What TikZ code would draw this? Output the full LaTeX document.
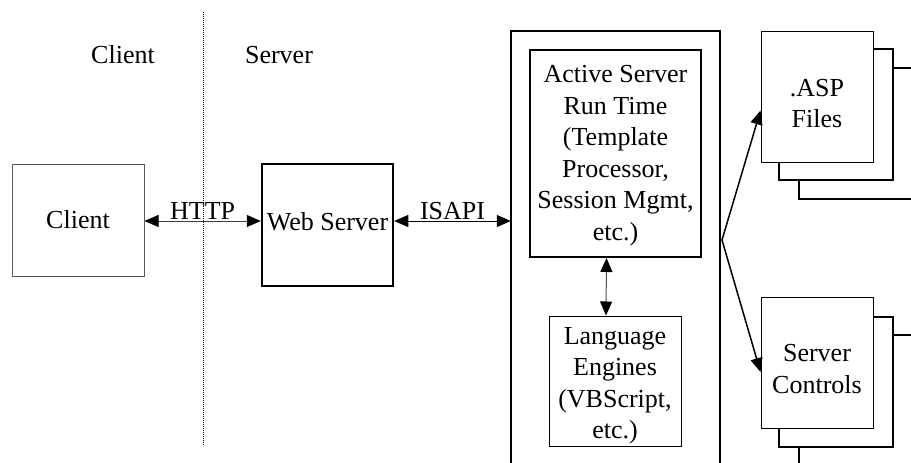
\documentclass[tikz,border=0pt]{standalone}
\usepackage{fontspec}
\setmainfont{Liberation Serif}
\usetikzlibrary{arrows.meta}
\begin{document}
\begin{tikzpicture}[x=1pt,y=-1pt,
  lbl/.style={font=\fontsize{26}{31.5}\selectfont, inner sep=0pt, align=center},
  thinbox/.style={draw, line width=1pt, fill=white, inner sep=0pt},
  thickbox/.style={draw, line width=2pt, fill=white, inner sep=0pt},
  sheet/.style={draw, line width=1.8pt, fill=white},
  link/.style={line width=1pt, {Triangle[length=14pt,width=12pt,color=black]}-{Triangle[length=14pt,width=12pt,color=black]}},
  feed/.style={line width=1.5pt, -{Triangle[length=14pt,width=12pt]}}
]
\useasboundingbox (0,0) rectangle (911,463);

% client / server divide
\coordinate (dtop) at (203,12);
\coordinate (dbot) at (203,445);
\draw[line width=1pt, dash pattern=on 1pt off 1pt] (dtop) -- (dbot);
\node[lbl] (sideC) at (123,55) {Client};
\node[lbl] (sideS) at (279,55) {Server};

% client and web server
\node[thinbox, draw=black!65, minimum width=132pt, minimum height=112pt, lbl] (cl) at (78,220) {Client};
\node[thickbox, minimum width=131.5pt, minimum height=122pt] (ws) at (327.5,225) {};
\node[lbl] (wstext) at ([yshift=3pt]ws.center) {Web Server};

% ASP host frame (open at the bottom)
\node[inner sep=0pt, minimum width=209pt, minimum height=438pt] (frame) at (615.5,250) {};
\draw[line width=2pt] (frame.south west) |- (frame.north east) -- (frame.south east);

\node[thickbox, minimum width=171pt, minimum height=207pt] (ast) at (615.5,153.5) {};
\node[lbl] (asttext) at ([yshift=-2pt]ast.center)
  {Active Server\\Run Time\\(Template\\Processor,\\Session Mgmt,\\etc.)};
\node[thinbox, minimum width=132pt, minimum height=130pt] (lang) at (615,381) {};
\node[lbl] (langtext) at ([yshift=-5pt]lang.center) {Language\\Engines\\(VBScript,\\etc.)};

% stacked .ASP files
\draw[sheet] (799,68) rectangle (925,199);
\draw[sheet] (779,49) rectangle (893,180);
\node[thinbox, minimum width=112pt, minimum height=131pt] (asp) at (817,96.5) {};
\node[lbl] (asptext) at ([yshift=-7pt]asp.center) {.ASP\\Files};

% stacked server controls
\draw[sheet] (799,335) rectangle (925,475);
\draw[sheet] (779,317) rectangle (893,447);
\node[thinbox, minimum width=112pt, minimum height=131pt] (ctl) at (817,362.5) {};
\node[lbl] (ctltext) at ([yshift=-6.5pt]ctl.center) {Server\\Controls};

% connectors
\coordinate (hy) at (0,221);
\draw[link, draw=black!75] (cl.east |- hy) -- node[lbl, above=1pt, text=black] (http) {HTTP} (ws.west |- hy);
\draw[link] (ws.east |- hy) -- node[lbl, above=1pt] (isapi) {ISAPI} (frame.west |- hy);
\draw[link, draw=black!70] ([xshift=-9pt]ast.south) -- ([xshift=-9pt]lang.north);

\coordinate (fan) at (722,240);
\draw[feed] (fan) -- ([yshift=-14pt]asp.west);
\draw[feed] (fan) -- ([yshift=-9.5pt]ctl.west);
\end{tikzpicture}
\end{document}
